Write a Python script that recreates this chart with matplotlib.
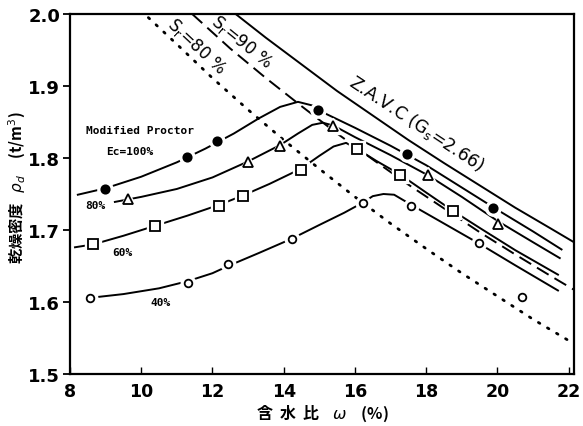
import matplotlib
matplotlib.use('Agg')
import matplotlib.pyplot as plt

# ---------------- data ----------------
x_ticks = [8, 10, 12, 14, 16, 18, 20, 22]
x_tick_labels = ['8', '10', '12', '14', '16', '18', '20', '22']
y_ticks = [1.5, 1.6, 1.7, 1.8, 1.9, 2.0]
y_tick_labels = ['1.5', '1.6', '1.7', '1.8', '1.9', '2.0']

# Ec = 100 % (filled circles)
m100_x = [8.97, 11.29, 12.13, 14.97, 17.46, 19.88]
m100_y = [1.757, 1.802, 1.824, 1.866, 1.805, 1.731]
c100_x = [8.22, 9.0, 10.0, 11.0, 11.8, 12.6, 13.3, 13.9, 14.4, 14.8, 15.2, 16.0, 17.0, 18.0, 19.0, 20.0, 21.0, 21.8]
c100_y = [1.749, 1.758, 1.774, 1.794, 1.813, 1.834, 1.855, 1.871, 1.878, 1.873, 1.861, 1.842, 1.817, 1.790, 1.759, 1.728, 1.698, 1.673]

# 80 % (triangles)
m80_x = [9.63, 12.99, 13.90, 15.39, 18.05, 20.02]
m80_y = [1.743, 1.795, 1.817, 1.844, 1.776, 1.709]
c80_x = [9.26, 10.0, 11.0, 12.0, 12.99, 13.9, 14.4, 14.8, 15.1, 15.4, 16.0, 17.0, 18.05, 19.0, 20.02, 21.0, 21.75]
c80_y = [1.739, 1.746, 1.757, 1.773, 1.795, 1.818, 1.834, 1.846, 1.849, 1.845, 1.829, 1.804, 1.776, 1.746, 1.712, 1.683, 1.661]

# 60 % (squares)
m60_x = [8.65, 10.40, 12.19, 12.86, 14.48, 16.05, 17.27, 18.74]
m60_y = [1.680, 1.706, 1.734, 1.747, 1.784, 1.812, 1.777, 1.727]
c60_x = [8.14, 8.65, 9.5, 10.4, 11.3, 12.19, 12.86, 13.6, 14.48, 15.0, 15.4, 15.75, 16.05, 16.6, 17.27, 18.0, 18.74, 19.5, 20.5, 21.7]
c60_y = [1.676, 1.680, 1.692, 1.706, 1.720, 1.735, 1.748, 1.764, 1.785, 1.803, 1.816, 1.821, 1.813, 1.796, 1.777, 1.752, 1.727, 1.703, 1.672, 1.638]

# 40 % (open circles)
m40_x = [8.56, 11.31, 12.44, 14.23, 16.22, 17.58, 19.49, 20.70]
m40_y = [1.606, 1.627, 1.653, 1.688, 1.738, 1.733, 1.682, 1.607]
c40_x = [8.6, 9.5, 10.5, 11.31, 12.0, 12.44, 13.3, 14.23, 15.0, 15.7, 16.22, 16.5, 16.8, 17.1, 17.58, 18.5, 19.49, 20.5, 21.7]
c40_y = [1.606, 1.611, 1.619, 1.629, 1.640, 1.650, 1.668, 1.688, 1.707, 1.724, 1.738, 1.747, 1.750, 1.749, 1.735, 1.709, 1.681, 1.651, 1.616]

# Zero air voids curve (Gs = 2.66)
zav_x = [12.65, 13.5, 14.5, 15.5, 16.5, 17.5, 18.5, 19.5, 20.5, 21.5, 22.15]
zav_y = [2.000, 1.967, 1.930, 1.893, 1.859, 1.825, 1.793, 1.762, 1.731, 1.702, 1.683]

# Sr = 90 % (dashed)
sr90_x = [11.43, 12.5, 13.5, 14.5, 15.5, 16.5, 17.5, 18.5, 19.5, 20.5, 21.5, 22.15]
sr90_y = [2.000, 1.952, 1.911, 1.872, 1.834, 1.798, 1.763, 1.730, 1.697, 1.666, 1.636, 1.617]

# Sr = 80 % (dotted)
sr80_x = [10.2, 11.0, 12.0, 13.0, 14.0, 15.0, 16.0, 17.0, 18.0, 19.0, 20.0, 21.0, 22.15]
sr80_y = [1.995, 1.958, 1.911, 1.867, 1.825, 1.785, 1.746, 1.709, 1.674, 1.640, 1.608, 1.576, 1.542]

# ---------------- figure ----------------
fig = plt.figure(figsize=(5.83, 4.27), dpi=100)
ax = fig.add_axes([70 / 583, 52 / 427, 504 / 583, 360 / 427])
ax.set_xlim(8, 22.15)
ax.set_ylim(1.5, 2.0)

# reference lines
ax.plot(zav_x, zav_y, color='black', lw=1.4, zorder=2)
ax.plot(sr90_x, sr90_y, color='black', lw=1.4, linestyle=(0, (7, 3.5)), zorder=2)
ax.plot(sr80_x, sr80_y, color='black', lw=2.0, linestyle=(0, (0.6, 3.2)),
        dash_capstyle='round', zorder=2)

# compaction curves
for cx, cy in [(c100_x, c100_y), (c80_x, c80_y), (c60_x, c60_y), (c40_x, c40_y)]:
    ax.plot(cx, cy, color='black', lw=1.4, zorder=2)

# markers (with white halo so lines break around them)
series = [
    (m100_x, m100_y, 'o', 6.0, 'black'),
    (m80_x, m80_y, '^', 6.5, 'white'),
    (m60_x, m60_y, 's', 7.0, 'white'),
    (m40_x, m40_y, 'o', 5.5, 'white'),
]
for mx, my, mk, ms, fc in series:
    ax.plot(mx, my, ls='none', marker=mk, ms=ms + 5, mfc='white', mec='white', zorder=3)
    ax.plot(mx, my, ls='none', marker=mk, ms=ms, mfc=fc, mec='black', mew=1.3, zorder=4)

# annotations
ax.text(11.54, 1.956, 'S$_\\mathrm{r}$=80 %', rotation=-43, ha='center', va='center',
        fontsize=12, rotation_mode='anchor')
ax.text(12.83, 1.9625, 'S$_\\mathrm{r}$=90 %', rotation=-39, ha='center', va='center',
        fontsize=12, rotation_mode='anchor')
ax.text(17.72, 1.849, 'Z.A.V.C (G$_\\mathrm{s}$=2.66)', rotation=-33.5, ha='center',
        va='center', fontsize=12.5, rotation_mode='anchor')

ax.text(9.97, 1.839, 'Modified Proctor', ha='center', va='center', fontsize=8,
        family='DejaVu Sans Mono', fontweight='bold')
ax.text(9.69, 1.810, 'Ec=100%', ha='center', va='center', fontsize=8,
        family='DejaVu Sans Mono', fontweight='bold')
ax.text(8.70, 1.735, '80%', ha='center', va='center', fontsize=8,
        family='DejaVu Sans Mono', fontweight='bold')
ax.text(9.46, 1.670, '60%', ha='center', va='center', fontsize=8,
        family='DejaVu Sans Mono', fontweight='bold')
ax.text(10.53, 1.600, '40%', ha='center', va='center', fontsize=8,
        family='DejaVu Sans Mono', fontweight='bold')

# axes styling
for s in ax.spines.values():
    s.set_linewidth(1.6)
ax.set_xticks(x_ticks, labels=x_tick_labels, fontsize=12.5, fontweight='bold')
ax.set_yticks(y_ticks, labels=y_tick_labels, fontsize=13, fontweight='bold')
ax.tick_params(axis='x', direction='in', length=5, width=1.0, pad=6)
ax.tick_params(axis='y', direction='out', length=5, width=1.3, pad=2)

cjk = ['Noto Sans CJK JP', 'DejaVu Sans']
ax.set_xlabel('含  水  比    $\\omega$    (%)', family=cjk, fontsize=11.5, fontweight='bold',
              labelpad=2)
ax.set_ylabel('乾燥密度   $\\rho_d$     (t/m$^3$)', family=cjk, fontsize=11, fontweight='bold',
              ha='center', va='center')
ax.yaxis.set_label_coords(-0.105, 0.52)

fig.savefig('out.png', dpi=100)
